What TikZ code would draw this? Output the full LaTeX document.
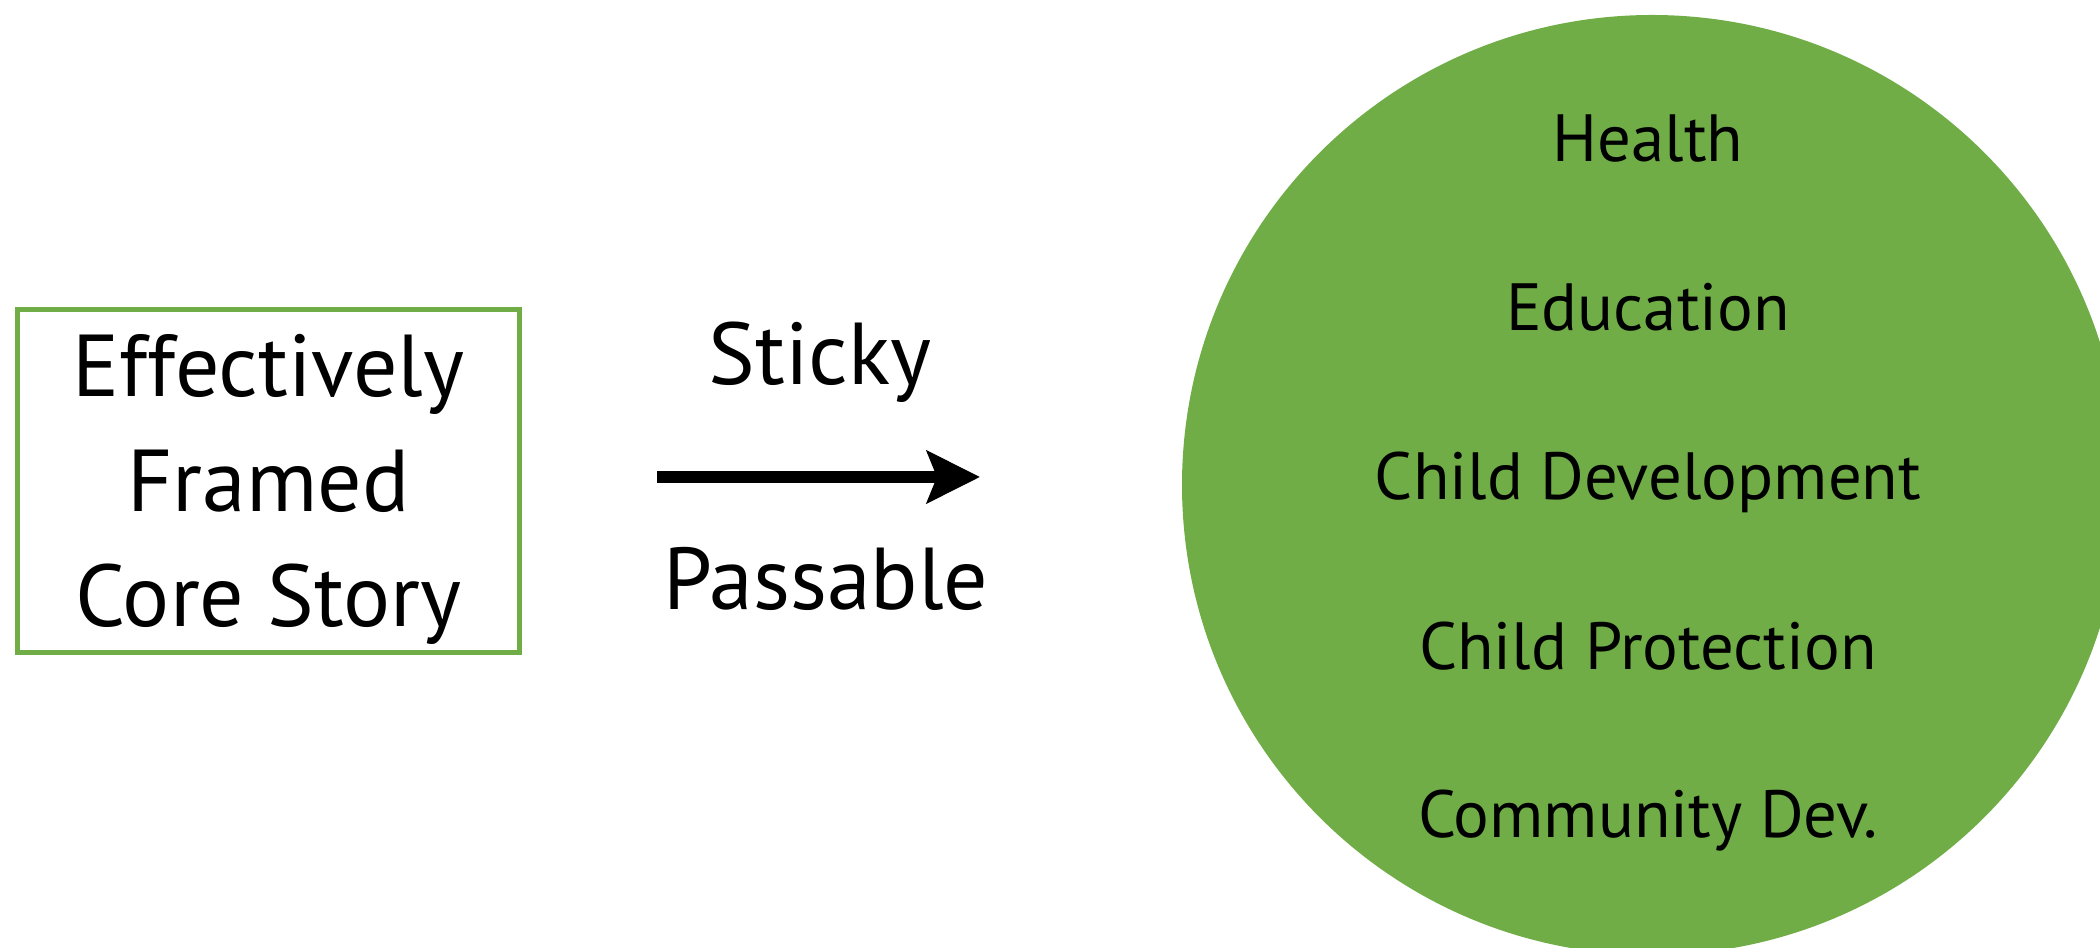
\documentclass[tikz,border=0pt]{standalone}
\usepackage{fontspec}
\setmainfont{PT Sans}
\usetikzlibrary{arrows.meta}
\definecolor{framegreen}{RGB}{112,173,71}

\begin{document}
\begin{tikzpicture}[
		bigtext/.style={font=\fontsize{25}{32.7}\selectfont},
		areatext/.style={font=\fontsize{19}{23}\selectfont, anchor=base},
	]
		%%%%% START %%%%%
		\useasboundingbox (0, 0) rectangle (21, -9.48);
		
		\node[draw=framegreen, line width=0.5mm, minimum width=5.02cm, minimum height=3.43cm] (story) at (2.685, -4.81) {};
		\node[bigtext, align=center] (storytext) at ([yshift=-0.08cm]story.center) {Effectively\\Framed\\Core Story};
		
		\coordinate (tail) at (6.57, -4.77);
		\coordinate (head) at (9.80, -4.77);
		\draw[line width=1.2mm, -{Stealth[length=5.3mm, width=5.2mm, inset=1mm]}] (tail) -- (head);
		\node[bigtext, anchor=base] (sticky) at (8.20, -3.85) {Sticky};
		\node[bigtext, anchor=base] (passable) at (8.26, -6.10) {Passable};
		
		\node[circle, fill=framegreen, minimum size=9.4cm, inner sep=0pt] (fields) at (16.52, -4.85) {};
		\node[areatext] (health) at (16.48, -1.62) {Health};
		\node[areatext] (education) at (16.48, -3.31) {Education};
		\node[areatext] (childdev) at (16.48, -5.00) {Child Development};
		\node[areatext] (protection) at (16.48, -6.70) {Child Protection};
		\node[areatext] (community) at (16.48, -8.38) {Community Dev.};
		
		%%%%% END %%%%%
	\end{tikzpicture}
\end{document}
